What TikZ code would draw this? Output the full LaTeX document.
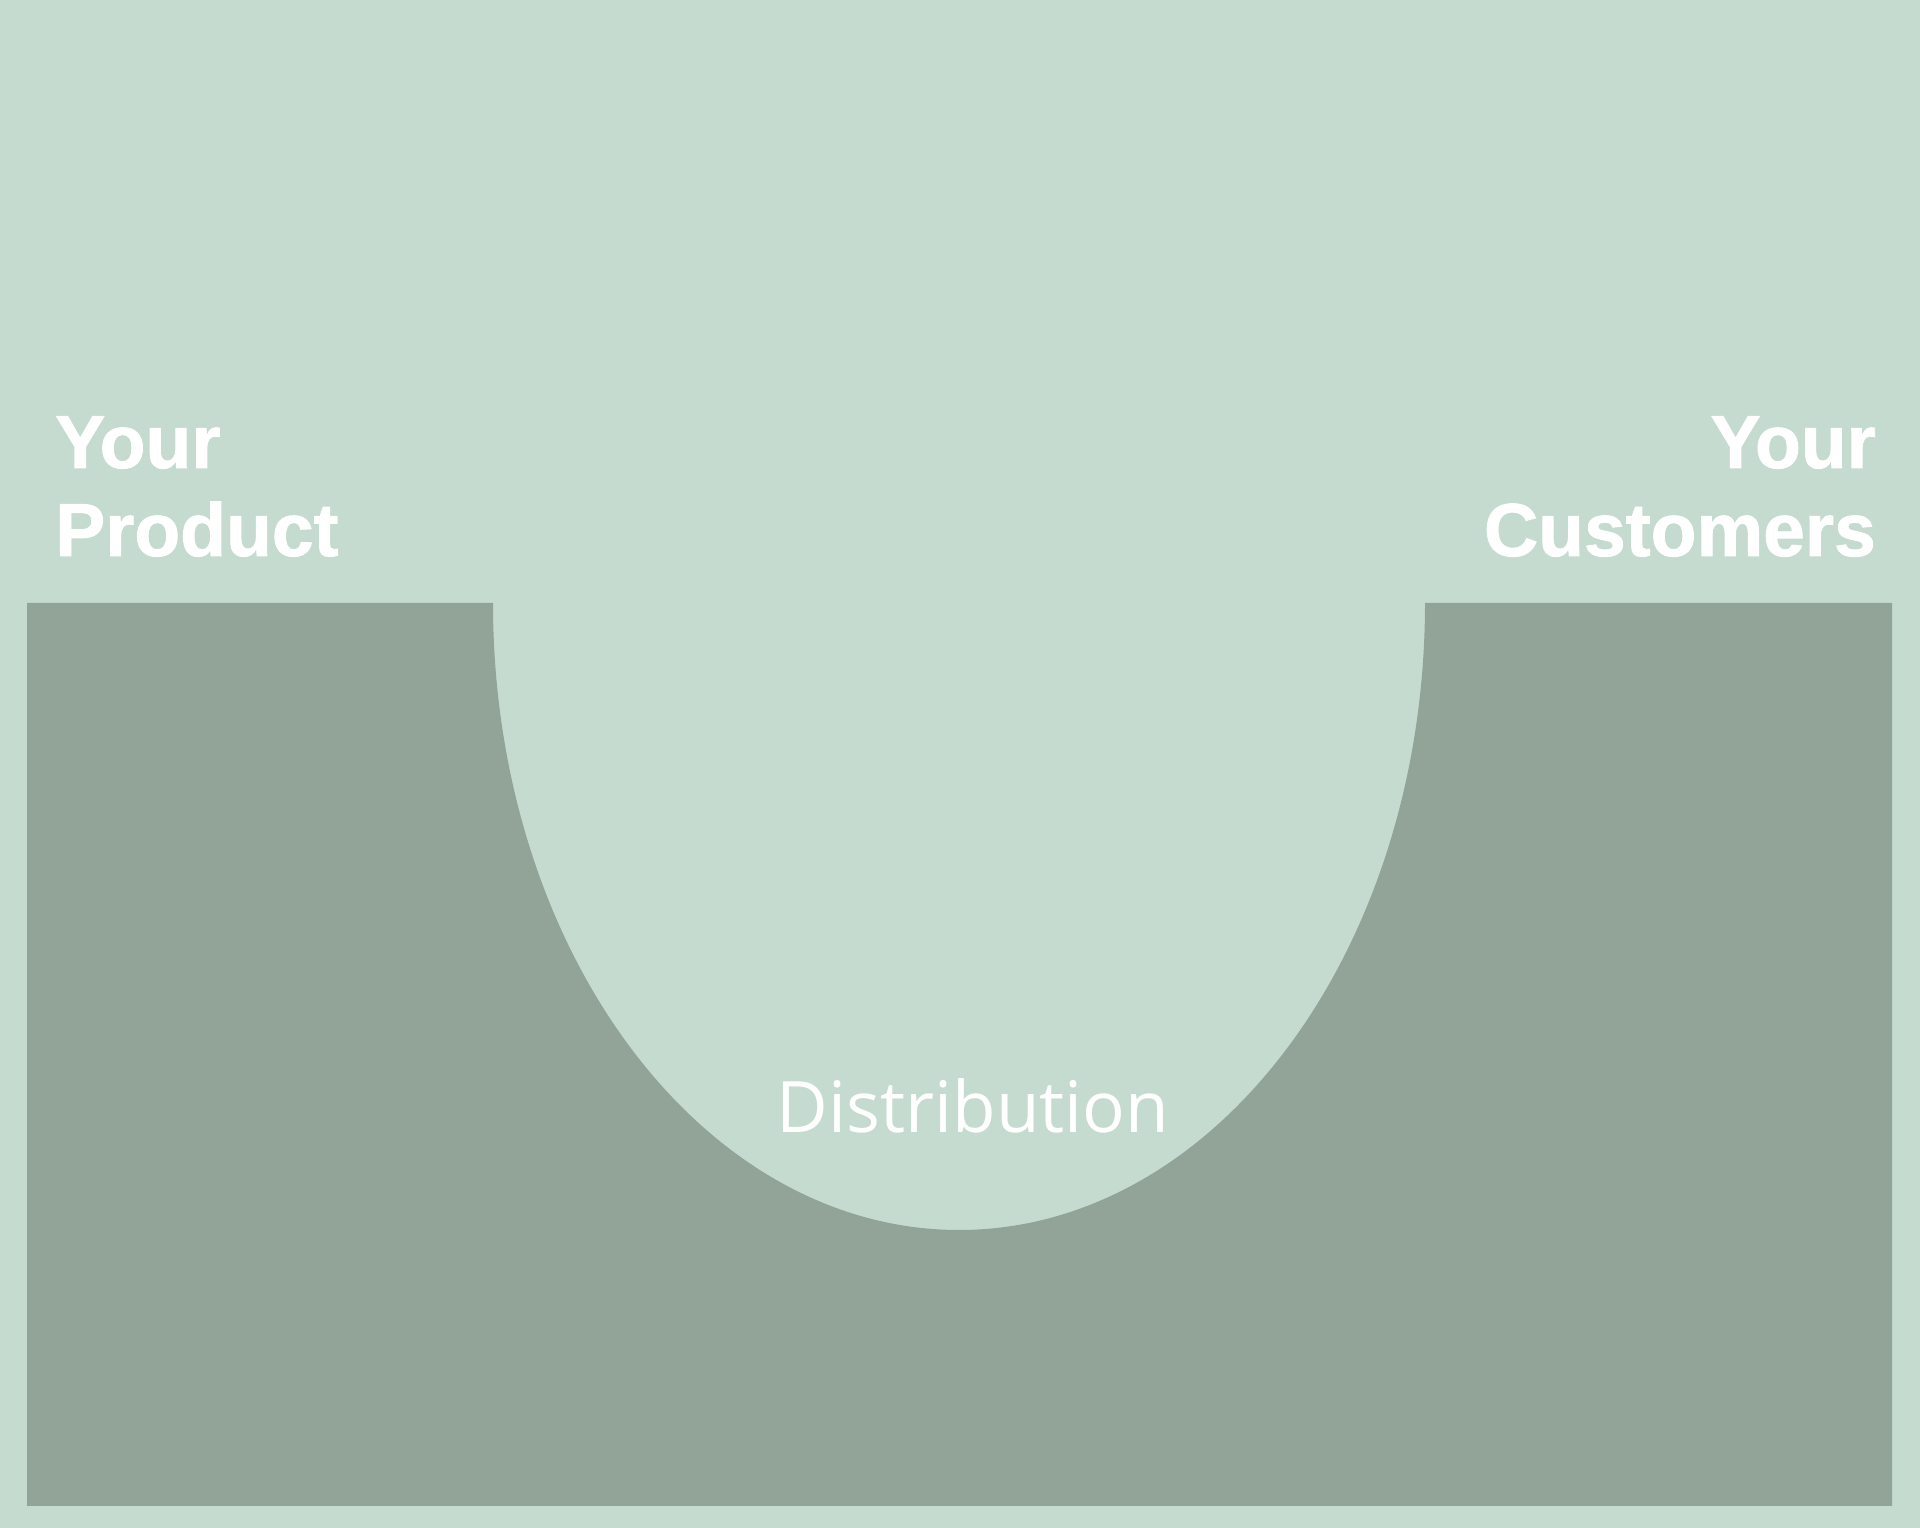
\documentclass[tikz,border=0pt]{standalone}
\usepackage{fontspec}
\setmainfont{Liberation Sans}
\newfontfamily\headfont{Liberation Sans Bold}[FakeBold=1.2]
\newfontfamily\distfont{Open Sans}[Ligatures=NoCommon]
\definecolor{bglight}{HTML}{C6DBCF}
\definecolor{bgdark}{HTML}{92A398}
\tikzset{
  headlabel/.style={inner sep=0pt, text=white, font=\headfont\fontsize{75}{88}\selectfont},
  distlabel/.style={inner sep=0pt, text=white, font=\distfont\fontsize{71}{80}\selectfont}
}
\begin{document}
\begin{tikzpicture}[x=1pt,y=1pt]
\useasboundingbox (0,0) rectangle (1920,1528);
\fill[bglight] (0,0) rectangle (1920,1528);
\fill[bgdark] (27,22) -- (27,925) -- (493,925)
  arc[start angle=180, end angle=360, x radius=466, y radius=627]
  -- (1892,925) -- (1892,22) -- cycle;
\node[headlabel, anchor=base west] (prod1) at (55,1060) {Your};
\node[headlabel, anchor=base west] (prod2) at (55,972) {Product};
\node[headlabel, anchor=base east] (cust1) at (1876,1060) {Your};
\node[headlabel, anchor=base east] (cust2) at (1876,972) {Customers};
\node[distlabel, anchor=base] (dist) at (973,395) {Distribution};
\end{tikzpicture}
\end{document}
